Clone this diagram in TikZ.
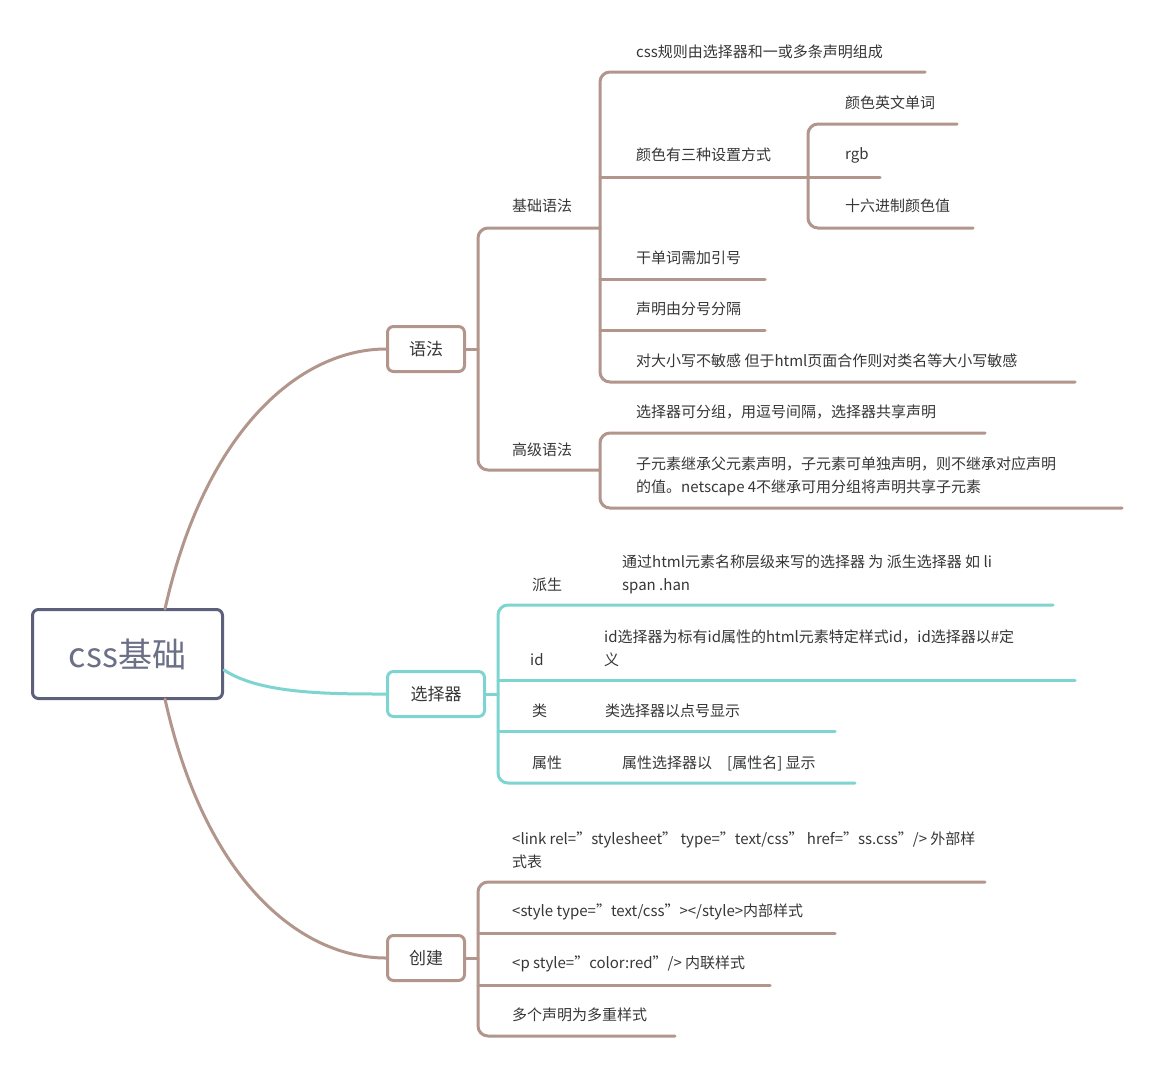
\documentclass[tikz,border=0pt]{standalone}
\usepackage{fontspec}
\setmainfont{Noto Sans CJK SC}
\definecolor{br}{RGB}{178,150,140}
\definecolor{tl}{RGB}{125,212,208}
\definecolor{rt}{RGB}{92,96,122}
\definecolor{tx}{RGB}{55,55,55}
\begin{document}
\begin{tikzpicture}[x=1pt,y=-1pt,
  ln/.style={line width=3pt,line cap=round},
  bl/.style={ln,draw=br,rounded corners=10pt},
  tln/.style={ln,draw=tl,rounded corners=10pt},
  lab/.style={anchor=west,text=tx,font=\fontsize{15}{23}\selectfont,inner sep=0pt,align=left},
  box/.style={draw,line width=3pt,rounded corners=6pt,fill=white,minimum height=45pt,text=tx,font=\fontsize{17}{20}\selectfont}]
\useasboundingbox[fill=white] (0,0) rectangle (1153,1069);
% root
\node[box,draw=rt,minimum width=190pt,minimum height=89pt,font=\fontsize{34}{40}\selectfont,text=rt!90] (root) at (127.5,654) {css基础};
\node[box,draw=br,minimum width=77pt] (yf) at (426,349) {语法};
\node[box,draw=tl,minimum width=97pt] (xz) at (436,694) {选择器};
\node[box,draw=br,minimum width=77pt] (cj) at (426,958) {创建};
\begin{scope}[on background layer/.try]\end{scope}
\draw[ln,br] (165,609) .. controls (205,430) and (300,349) .. (yf.west);
\draw[ln,br] (165,699) .. controls (205,880) and (300,958) .. (cj.west);
\draw[ln,tl] (root.east) ++(0,16) .. controls (260,694) and (330,694) .. (xz.west);
% 语法
\draw[bl] (600,228) -- (478,228) -- (478,470) -- (600,470);
\draw[ln,br] (yf.east) -- (478,349);
\node[lab] (a1) at (512,206) {基础语法};
\node[lab] (a2) at (512,450) {高级语法};
\draw[bl] (925,72) -- (600,72) -- (600,382) -- (1075,382);
\draw[ln,br] (600,177) -- (808,177);
\draw[ln,br] (600,279) -- (765,279);
\draw[ln,br] (600,330) -- (765,330);
\node[lab] at (636,52) {css规则由选择器和一或多条声明组成};
\node[lab] at (636,155) {颜色有三种设置方式};
\node[lab] at (636,258) {干单词需加引号};
\node[lab] at (636,309) {声明由分号分隔};
\node[lab] at (636,361) {对大小写不敏感 但于html页面合作则对类名等大小写敏感};
\draw[bl] (957,124) -- (808,124) -- (808,228) -- (973,228);
\draw[ln,br] (808,177) -- (880,177);
\node[lab] at (845,103) {颜色英文单词};
\node[lab] at (845,155) {rgb};
\node[lab] at (845,206) {十六进制颜色值};
\draw[bl] (985,433) -- (600,433) -- (600,508) -- (1122,508);
\node[lab] at (636,412) {选择器可分组，用逗号间隔，选择器共享声明};
\node[lab] at (636,476) {子元素继承父元素声明，子元素可单独声明，则不继承对应声明\\的值。netscape 4不继承可用分组将声明共享子元素};
% 选择器
\draw[tln] (1053,605) -- (498,605) -- (498,783) -- (855,783);
\draw[ln,tl] (xz.east) -- (498,694);
\draw[ln,tl] (498,680) -- (1075,680);
\draw[ln,tl] (498,731) -- (835,731);
\node[lab] at (532,585) {派生};
\node[lab] at (622,574) {通过html元素名称层级来写的选择器 为 派生选择器 如 li\\span .han};
\node[lab] at (530,660) {id};
\node[lab] at (604,648) {id选择器为标有id属性的html元素特定样式id，id选择器以\#定\\义};
\node[lab] at (532,711) {类};
\node[lab] at (605,711) {类选择器以点号显示};
\node[lab] at (532,763) {属性};
\node[lab] at (622,763) {属性选择器以\quad [属性名] 显示};
% 创建
\draw[bl] (985,882) -- (478,882) -- (478,1036) -- (675,1036);
\draw[ln,br] (cj.east) -- (478,958);
\draw[ln,br] (478,933) -- (835,933);
\draw[ln,br] (478,985) -- (770,985);
\node[lab] at (512,850) {<link rel="stylesheet" type="text/css" href="ss.css"/> 外部样\\式表};
\node[lab] at (512,912) {<style type="text/css"></style>内部样式};
\node[lab] at (512,964) {<p style="color:red"/> 内联样式};
\node[lab] at (512,1015) {多个声明为多重样式};
\end{tikzpicture}
\end{document}
